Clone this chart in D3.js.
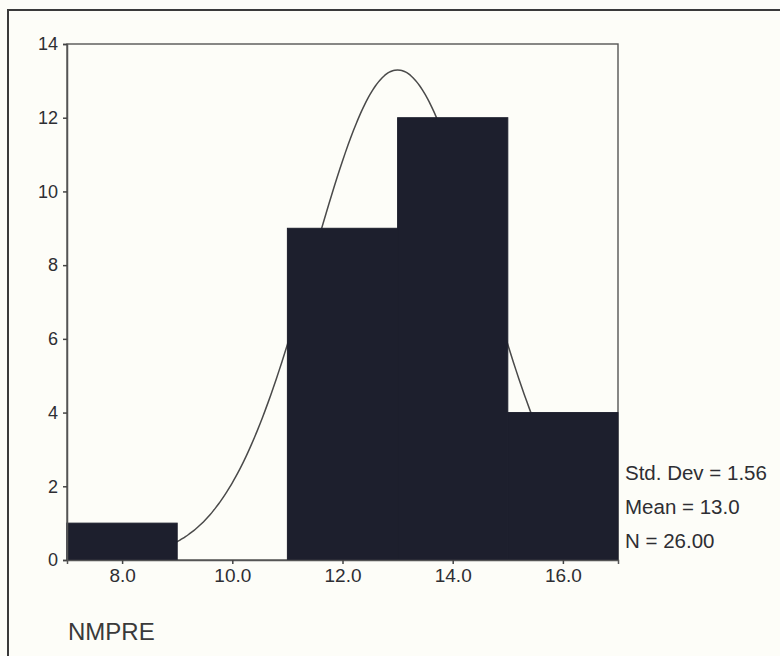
<!DOCTYPE html>
<html><head><meta charset="utf-8">
<script src="https://cdn.jsdelivr.net/npm/d3@7"></script>
<style>body{margin:0;background:#fdfdf8;}svg{display:block;}</style>
</head><body>
<svg id="c" width="780" height="656"></svg>
<script>
const binStarts = [7, 9, 11, 13, 15];
const binWidth = 2;
const counts = [1, 0, 9, 12, 4];
const xTicks = [8, 10, 12, 14, 16];
const yTicks = [0, 2, 4, 6, 8, 10, 12, 14];
const statLabels = ["Std. Dev = 1.56", "Mean = 13.0", "N = 26.00"];
const stdDev = 1.56, mean = 13.0, nTotal = 26;
const varName = "NMPRE";

const svg = d3.select("#c");
const font = "Liberation Sans, Arial, sans-serif";
const ink = "#2e2e33";
const barFill = "#1d1f2d";

// outer frame
svg.append("rect").attr("x", 8).attr("y", 10).attr("width", 800).attr("height", 700)
  .attr("fill", "none").attr("stroke", "#3a3a3a").attr("stroke-width", 2);

const x = d3.scaleLinear().domain([7, 17]).range([67, 618]);
const y = d3.scaleLinear().domain([0, 14]).range([560, 44]);

// plot frame
svg.append("rect").attr("x", x(7)).attr("y", y(14))
  .attr("width", x(17) - x(7)).attr("height", y(0) - y(14))
  .attr("fill", "none").attr("stroke", "#555").attr("stroke-width", 1.4);

// normal curve (from displayed mean / sd / N)
const pdf = v => nTotal * binWidth / (stdDev * Math.sqrt(2 * Math.PI)) * Math.exp(-0.5 * ((v - mean) / stdDev) ** 2);
const xs = d3.range(7, 17.001, 0.05);
svg.append("path").datum(xs)
  .attr("d", d3.line().x(v => x(v)).y(v => y(pdf(v))).curve(d3.curveBasis))
  .attr("fill", "none").attr("stroke", "#4a4a4a").attr("stroke-width", 1.5);

// bars
svg.selectAll("rect.bar").data(binStarts.map((s, i) => ({s, c: counts[i]})).filter(d => d.c > 0))
  .enter().append("rect").attr("class", "bar")
  .attr("x", d => x(d.s)).attr("width", d => x(d.s + binWidth) - x(d.s))
  .attr("y", d => y(d.c)).attr("height", d => y(0) - y(d.c))
  .attr("fill", barFill).attr("stroke", barFill).attr("stroke-width", 1);

// axes
const yAxis = d3.axisLeft(y).tickValues(yTicks).tickFormat(d3.format("d")).tickSize(4).tickPadding(5);
const gy = svg.append("g").attr("transform", `translate(${x(7)},0)`).call(yAxis);
gy.select(".domain").attr("stroke", "#555").attr("stroke-width", 1.5);
gy.selectAll(".tick line").attr("stroke", "#444").attr("stroke-width", 1.5);
gy.selectAll("text").attr("font-family", font).attr("font-size", 18).attr("fill", ink);

const xAxis = d3.axisBottom(x).tickValues(xTicks).tickFormat(d3.format(".1f")).tickSize(4).tickPadding(5);
const gx = svg.append("g").attr("transform", `translate(0,${y(0)})`).call(xAxis);
gx.select(".domain").attr("stroke", "#555").attr("stroke-width", 1.5);
gx.selectAll(".tick line").attr("stroke", "#444").attr("stroke-width", 1.5);
gx.selectAll("text").attr("font-family", font).attr("font-size", 19).attr("fill", ink);

// stats
svg.selectAll("text.stat").data(statLabels).enter().append("text").attr("class", "stat")
  .attr("x", 625).attr("y", (d, i) => 480 + i * 34)
  .attr("font-family", font).attr("font-size", 20.5).attr("fill", ink).text(d => d);

svg.append("text").attr("x", 68).attr("y", 640)
  .attr("font-family", font).attr("font-size", 24).attr("fill", "#3a3a3a").text(varName);
</script>
</body></html>
